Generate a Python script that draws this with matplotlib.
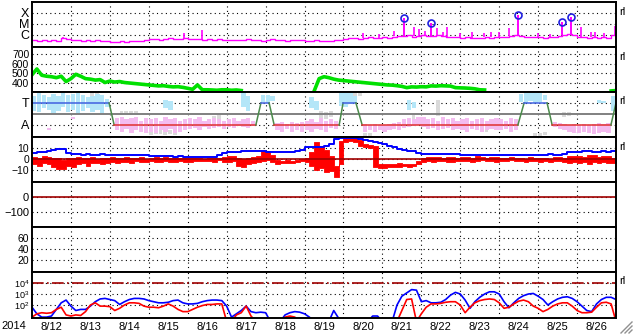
import numpy as np
import matplotlib
matplotlib.use("Agg")
import matplotlib.pyplot as plt
from matplotlib.lines import Line2D
from matplotlib.ticker import NullLocator, FixedLocator

plt.rcParams['font.family'] = ['Liberation Sans', 'DejaVu Sans']
plt.rcParams['font.size'] = 8

nan = np.nan
N8 = [nan] * 8

# ── time axis: days since 2014-08-12 00:00, 3-hour samples ──────────────────
t3 = np.arange(121) / 8.0
day_labels = ["8/12", "8/13", "8/14", "8/15", "8/16", "8/17", "8/18", "8/19",
              "8/20", "8/21", "8/22", "8/23", "8/24", "8/25", "8/26"]

# ── panel 1: GOES X-ray background (units of 1e-7 W/m2) ─────────────────────
xray_bg = [3.2, 2.7, 3.6, 2.9, 3.4, 3.1, 4.8, 3.9,
           3.3, 3.8, 3.0, 3.5, 2.9, 3.6, 3.1, 2.7,
           2.5, 2.3, 2.8, 2.4, 2.6, 3.0, 2.7, 3.5,
           3.9, 4.4, 3.6, 4.1, 5.0, 4.2, 4.6, 5.4,
           4.5, 4.0, 4.4, 3.8, 4.2, 3.6, 3.9, 3.4,
           3.5, 3.8, 3.2, 3.6, 4.0, 3.3, 3.7, 3.1,
           3.4, 3.9, 3.3, 3.6, 3.0, 3.4, 3.8, 3.2,
           3.0, 2.8, 3.3, 2.9, 3.1, 2.7, 3.2, 3.6,
           4.0, 4.8, 5.5, 4.6, 5.2, 6.0, 5.0, 5.6,
           6.2, 5.5, 6.8, 7.5, 8.5, 9.0, 7.0, 8.0,
           9.0, 8.0, 7.5, 9.5, 8.5, 7.0, 6.5, 6.0,
           5.5, 6.0, 5.2, 5.8, 5.0, 6.2, 5.4, 6.0,
           6.5, 7.0, 8.0, 10.0, 8.5, 7.0, 6.5, 6.0,
           6.0, 5.5, 6.5, 6.0, 7.5, 10.0, 12.0, 9.0,
           7.0, 6.0, 5.5, 6.5, 5.8, 6.2, 5.5, 9.0,
           9.0]
spike_t    = [0.8, 3.9, 4.37, 8.5, 8.9, 9.3, 9.81, 9.95, 10.1, 10.4, 10.55, 10.66,
              11.0, 11.3, 11.6, 11.8, 12.0, 12.25, 13.0, 13.3, 14.1, 14.35, 14.45,
              14.7, 14.98]
spike_base = [4.8, 5.0, 4.2, 5.2, 5.6, 7.5, 8.0, 8.0, 9.0, 9.5, 8.5, 7.0,
              5.5, 5.8, 6.2, 6.0, 6.5, 8.0, 6.0, 6.0, 6.0, 6.5, 5.8,
              5.5, 9.0]
spike_peak = [6.5, 15, 28, 15, 12, 23, 53, 35, 23, 43, 19, 53,
              15, 19, 15, 19, 19, 43, 15, 12, 53, 19, 19,
              15, 66]
flare_t    = [9.56, 10.25, 12.48, 13.61, 13.85]
flare_base = [8.5, 7.5, 8.5, 10.0, 12.0]
flare_peak = [350, 120, 660, 150, 430]

# ── panel 2: solar wind speed (km/s) ────────────────────────────────────────
speed = [485, 545, 480, 470, 465, 455, 470, 415,
         445, 490, 470, 445, 440, 430, 435, 405,
         420, 410, 415, 405, 400, 395, 390, 385,
         380, 375, 370, 372, 365, 360, 362, 355,
         345, 335, 380, 330, 330, 328, 325, 330,
         330, 325, 328, 322, nan, nan, nan, nan,
         *N8,
         nan, nan, 320, 445, 465, 455, 440, 430,
         425, 420, 415, 410, 405, 400, 395, 390,
         385, 380, 378, 372, 365, 352, 360, 358,
         362, 360, 370, 368, 372, 370, 368, 352,
         350, 348, 345, 340, 330, 328, nan, nan,
         *N8,
         *N8,
         nan, nan, nan, nan, nan, nan, nan, 318,
         322]

# ── panel 3: IMF sector (T = +1, A = -1) ─────────────────────────────────────
sector_t = [0, 1.98, 2.11, 5.75, 5.88, 6.09, 6.22, 7.89, 7.99, 8.32, 8.48,
            12.48, 12.64, 13.23, 13.36, 14.87, 15.0]
sector_v = [1, 1, -1, -1, 1, 1, -1, -1, 1, 1, -1, -1, 1, 1, -1, -1, 1]

toward_lo = [0.3, 0.2, 0.5, 0.4, 0.1, 0.3, 0.6, 0.2,
             0.4, 0.0, 0.3, 0.5, 0.2, 0.4, 0.1, 0.6,
             *N8,
             nan, nan, nan, 0.5, 0.4, nan, nan, nan,
             *N8,
             nan, nan, nan, 0.6, 0.3, nan, nan, 1.1,
             1.0, 1.2, nan, nan, nan, nan, nan, nan,
             nan, 0.5, 0.4, nan, nan, nan, nan, 0.7,
             0.6, 0.9, 1.0, nan, nan, nan, nan, nan,
             nan, nan, nan, nan, nan, 0.4, 0.5, nan,
             *N8,
             *N8,
             nan, nan, nan, nan, 1.1, 1.0, 1.2, 1.0,
             1.1, 1.3, nan, nan, nan, nan, nan, nan,
             nan, nan, nan, nan, 1.0, 1.0, nan, 0.3,
             0.4]
toward_hi = [1.6, 1.9, 1.7, 1.5, 1.8, 1.6, 1.9, 1.7,
             1.8, 1.9, 1.7, 1.5, 1.6, 1.8, 1.7, 1.4,
             *N8,
             nan, nan, nan, 1.3, 1.2, nan, nan, nan,
             *N8,
             nan, nan, nan, 2.0, 1.6, nan, nan, 1.7,
             1.75, 1.6, nan, nan, nan, nan, nan, nan,
             nan, 1.5, 1.2, nan, nan, nan, nan, 1.9,
             2.0, 1.9, 1.6, nan, nan, nan, nan, nan,
             nan, nan, nan, nan, nan, 1.3, 1.1, nan,
             *N8,
             *N8,
             nan, nan, nan, nan, 1.8, 2.0, 1.9, 2.0,
             1.9, 1.7, nan, nan, nan, nan, nan, nan,
             nan, nan, nan, nan, 1.3, 1.2, nan, 1.6,
             1.5]
away_lo = [nan, nan, nan, -1.5, nan, nan, nan, nan,
           -0.5, nan, nan, nan, nan, nan, nan, nan,
           nan, -1.5, -1.6, -1.4, -1.7, -1.5, -1.6, -1.7,
           -1.6, -1.7, -1.5, -1.6, -1.4, -1.7, -1.6, -1.5,
           -1.4, -1.3, -1.5, -1.2, -1.4, -1.3, -1.2, -1.4,
           -1.2, -1.3, -1.1, -1.2, -1.3, -1.1, nan, nan,
           nan, nan, -1.5, -1.6, -1.4, -1.6, -1.5, -1.6,
           -1.5, -1.6, -1.4, -1.5, -1.6, -1.3, -1.4, nan,
           nan, nan, nan, nan, -1.6, -1.5, -1.6, -1.5,
           -1.6, -1.5, -1.4, -1.5, -1.3, -1.2, -1.1, -1.0,
           -1.2, -1.4, -1.3, -1.5, -1.4, -1.3, -1.5, -1.4,
           -1.5, -1.6, -1.4, -1.5, -1.6, -1.5, -1.4, -1.5,
           -1.5, -1.4, -1.6, -1.5, nan, nan, nan, nan,
           nan, nan, nan, -1.2, -1.4, -1.5, -1.6, -1.7,
           -1.7, -1.6, -1.7, -1.8, -1.7, -1.6, -1.7, nan,
           nan]
away_hi = [nan, nan, nan, -1.3, nan, nan, nan, nan,
           -0.3, nan, nan, nan, nan, nan, nan, nan,
           nan, -0.4, -0.3, -0.5, -0.4, -0.3, -0.6, -0.4,
           -0.5, -0.4, -0.6, -0.3, -0.5, -0.4, -0.6, -0.5,
           -0.4, -0.5, -0.3, -0.6, -0.5, -0.4, -0.5, -0.6,
           -0.5, -0.4, -0.6, -0.5, -0.4, -0.6, nan, nan,
           nan, nan, -0.8, -0.7, -0.9, -0.7, -0.8, -0.7,
           -0.6, -0.5, -0.7, -0.4, -0.6, -0.5, -0.6, nan,
           nan, nan, nan, nan, -0.9, -1.0, -0.9, -1.0,
           -1.0, -0.9, -0.8, -0.7, -0.5, -0.4, -0.5, -0.3,
           -0.3, -0.5, -0.4, -0.6, -0.3, -0.5, -0.4, -0.6,
           -0.5, -0.4, -0.6, -0.5, -0.4, -0.6, -0.5, -0.4,
           -0.5, -0.6, -0.4, -0.5, nan, nan, nan, nan,
           nan, nan, nan, -0.7, -0.8, -0.9, -1.0, -0.9,
           -1.0, -0.9, -1.0, -0.9, -0.8, -0.9, -0.8, nan,
           nan]
mixed_lo = [*N8,
            nan, nan, nan, nan, 1.4, 1.5, nan, nan,
            nan, nan, -0.1, 0.0, -0.1, 0.0, nan, nan,
            -1.9, -1.8, -1.8, -1.9, -1.8, -1.9, nan, nan,
            nan, nan, nan, nan, nan, -0.7, -0.6, nan,
            *N8,
            *N8,
            nan, nan, nan, -0.4, -0.5, -0.3, nan, nan,
            nan, nan, 1.5, 1.6, -2.0, -2.0, nan, nan,
            nan, nan, nan, nan, nan, nan, -0.5, nan,
            nan, nan, nan, -0.2, nan, nan, nan, nan,
            nan, nan, nan, nan, nan, -1.6, nan, nan,
            nan, nan, nan, nan, nan, nan, nan, -2.0,
            -2.0, -1.9, nan, nan, nan, -0.3, -0.2, nan,
            *N8,
            nan]
mixed_hi = [*N8,
            nan, nan, nan, nan, 1.9, 1.9, nan, nan,
            nan, nan, 0.3, 0.3, 0.3, 0.3, nan, nan,
            -1.5, -1.6, -1.5, -1.6, -1.5, -1.6, nan, nan,
            nan, nan, nan, nan, nan, -0.2, -0.1, nan,
            *N8,
            *N8,
            nan, nan, nan, 0.3, 0.2, 0.3, nan, nan,
            nan, nan, 1.9, 1.9, -1.7, -1.7, nan, nan,
            nan, nan, nan, nan, nan, nan, -0.1, nan,
            nan, nan, nan, 1.3, nan, nan, nan, nan,
            nan, nan, nan, nan, nan, -1.2, nan, nan,
            nan, nan, nan, nan, nan, nan, nan, -1.7,
            -1.7, -1.6, nan, nan, nan, 0.2, 0.2, nan,
            *N8,
            nan]

# ── panel 4: IMF Bt and Bz (nT) ─────────────────────────────────────────────
bt = [5.8, 6.0, 6.2, 6.8, 8.5, 9.0, 9.2, 5.0,
      4.5, 4.2, 4.0, 4.3, 4.0, 3.8, 4.1, 3.9,
      4.0, 3.8, 4.0, 3.9, 3.6, 3.5, 3.4, 3.2,
      2.8, 2.5, 2.4, 2.6, 2.3, 2.2, 2.4, 2.2,
      2.0, 2.2, 1.9, 2.1, 1.8, 2.0, 3.5, 5.5,
      6.2, 6.0, 6.4, 7.2, 7.0, 7.3, 7.2, 6.8,
      6.5, 6.6, 6.4, 6.0, 6.3, 6.2, 7.0, 8.5,
      10.5, 10.8, 11.2, 11.0, 11.5, 14.0, 18.0, 19.0,
      19.0, 19.0, 18.8, 18.0, 17.3, 16.5, 15.5, 14.5,
      13.5, 12.0, 10.5, 9.0, 8.0, 7.3, 6.8, 5.5,
      4.5, 4.5, 4.4, 4.6, 4.5, 4.3, 4.5, 4.3,
      4.0, 3.8, 3.6, 3.8, 3.5, 3.9, 3.6, 3.8,
      3.6, 3.8, 3.5, 3.7, 3.3, 3.6, 3.8, 3.9,
      4.0, 3.8, 4.2, 3.6, 4.0, 4.5, 6.0, 6.5,
      6.4, 6.8, 7.2, 6.0, 6.5, 7.5, 6.2, 6.8,
      6.0]
bz_lo = [-5, -6.5, -4, -5, -7, -9, -9.5, -6,
         -7, -5, -4, -6, -4, -3.5, -5, -4,
         -3, -4, -2.5, -3, -3.5, -2, -3, -2.5,
         -2, -3, -2.5, -1.5, -3, -2.5, -2, -3,
         -2.5, -2, -1.5, -2, -1.5, -2.5, -1, -3,
         -3, -2, -6, -7, -5, -4, -3, -2,
         -1, -3, -5, -4, -3.5, -4, -3, -2,
         -3, -6, -10, -8, -12, -11, -16, -5,
         15, 16, 15, 12, 11, 10, -7, -8,
         -8, -7.5, -7, -7, -6.5, -7, -6.5, -5,
         -3, -2, -2.5, -1.5, -2, -3, -2.5, -2,
         -2, -1.5, -3, -2, -1, -2, -1.5, -2.5,
         -2, -1.5, -1, -2, -1.5, -2.5, -1.5, -2,
         -2.5, -2, -3, -2, -1.5, -3, -4, -3,
         -4, -3, -4.5, -3, -4, -2.5, -4, -3.5,
         -2]
bz_hi = [2, 1, 3, 1.5, 0.5, 1, -1, 1,
         1, 2, 0.5, 1, 1.5, 0, 1, 0.5,
         1.5, 0.5, 1, 1.8, 0.5, 1, 1.5, 0,
         1, 1.5, 0.5, 1.8, 0.8, 1.2, 0.5, 1,
         0.5, 1, 0.5, 0, 0.8, 0.5, 1, 2,
         2.5, 3, 1, 0, 1, 2, 3, 7.5,
         7, 4, -1, -1.5, -1, -2, -1, 0,
         1, 6, 15, 12, 8, 3, -6, 16,
         19, 19.5, 19, 17, 14, 13, 12, -5,
         -5, -4.5, -5, -4, -4.5, -5, -4.5, -2,
         1, 2, 1.5, 2, 1, 1.5, 2, 1,
         2, 1.5, 1, 2.5, 2, 1, 1.5, 2,
         1, 0.5, 1.5, 0.5, 1, 0, 1.5, 0.5,
         0.5, 1, 0, 1.5, 2, 1, 2.5, 3,
         3, 2, 3.5, 4, 2, 3, 2.5, 1,
         2]

# ── panel 7: particle flux (log10) ──────────────────────────────────────────
flux_blue = [1.8, 1.2, 0.9, 0.9, 1.0, 1.6, 2.2, 2.45,
             1.9, 1.5, 1.6, 1.6, 1.9, 2.3, 2.55, 2.6,
             2.5, 2.4, 2.05, 2.3, 2.5, 2.6, 2.6, 2.55,
             2.4, 2.3, 2.2, 2.2, 2.25, 2.4, 2.45, 2.2,
             2.1, 2.1, 2.15, 2.3, 2.4, 2.45, 2.45, 2.4,
             1.9, 0.9, 1.2, 1.5, 1.9, 1.4, 1.3, 1.35,
             1.3, 0.5, 0.5, 0.5, 1.1, 1.3, 1.4, 1.35,
             1.2, 0.9, 0.5, 0.5, 0.5, 0.5, 1.5, 0.8,
             0.5, 0.5, 0.5, 0.5, 0.5, 0.5, 1.0, 1.0,
             0.5, 0.5, 0.5, 2.0, 2.8, 3.1, 3.4, 3.35,
             2.3, 2.4, 2.2, 2.2, 2.25, 2.5, 2.9, 3.15,
             3.0, 2.45, 1.7, 2.3, 2.7, 3.0, 3.2, 3.2,
             3.0, 2.3, 1.75, 2.2, 2.6, 2.85, 3.0, 3.05,
             2.8, 2.5, 2.0, 2.3, 2.55, 2.7, 2.75, 2.6,
             2.3, 1.9, 1.5, 1.4, 2.1, 2.5, 2.7, 2.7,
             2.5]
flux_red = [0.9, 1.2, 1.3, 1.25, 1.3, 1.6, 1.8, 1.1,
            1.0, 1.1, 1.05, 1.4, 2.0, 2.2, 1.9, 1.9,
            1.85, 1.5, 1.7, 2.0, 2.2, 2.2, 2.15, 1.9,
            1.8, 1.8, 1.75, 1.9, 2.1, 1.9, 1.6, 1.4,
            1.4, 1.6, 1.8, 1.95, 2.05, 2.05, 2.1, 2.1,
            0.5, 0.5, 1.1, 1.3, 1.9, 1.0, 0.5, 0.5,
            0.5, 0.5, 0.5, 0.5, 0.9, 1.0, 0.9, 0.5,
            0.5, 0.5, 0.5, 0.5, 0.5, 0.5, 0.5, 0.5,
            0.5, 0.5, 0.5, 0.5, 0.5, 0.5, 0.5, 0.5,
            0.5, 0.5, 0.5, 0.5, 1.5, 2.5, 2.55, 0.5,
            1.2, 1.8, 2.1, 2.1, 2.15, 2.25, 2.3, 2.3,
            2.0, 1.3, 1.8, 2.2, 2.4, 2.5, 2.55, 2.5,
            2.2, 1.7, 1.8, 2.1, 2.35, 2.45, 2.3, 1.9,
            1.7, 1.4, 1.6, 1.9, 2.1, 2.2, 2.2, 1.9,
            1.5, 1.3, 1.3, 1.35, 1.8, 2.2, 2.25, 2.1,
            0.5]

# ── layout (pixels of a 633x334 canvas) ─────────────────────────────────────
W, H = 633, 334
X0, X1 = 32, 616
edges = [2, 47, 92, 137, 182, 227, 272, 318]
GRID = dict(color="k", linestyle=(0, (1, 3)), linewidth=0.8)

fig = plt.figure(figsize=(W / 100, H / 100), dpi=100)
axes = []
for i in range(7):
    top, bot = edges[i], edges[i + 1]
    ax = fig.add_axes([X0 / W, 1 - bot / H, (X1 - X0) / W, (bot - top) / H])
    ax.set_xlim(0, 15)
    ax.xaxis.set_major_locator(FixedLocator(range(1, 15)))
    ax.tick_params(axis="both", which="both", length=0, pad=2, labelsize=8)
    ax.tick_params(axis="x", which="major", labelbottom=False)
    for s in ax.spines.values():
        s.set_linewidth(1.4)
    ax.grid(True, **GRID)
    ax.set_axisbelow(True)
    axes.append(ax)
ax1, ax2, ax3, ax4, ax5, ax6, ax7 = axes

# ── panel 1: X-ray ──
ax1.set_yscale("log")
ax1.set_ylim(10 ** -7.1, 1e-3)
ax1.yaxis.set_minor_locator(NullLocator())
ax1.set_yticks([1e-6, 1e-5, 1e-4])
ax1.set_yticklabels(["C", "M", "X"], fontsize=9)
xb = np.array(xray_bg) * 1e-7
ax1.step(t3, xb, where="post", color="#ff00ff", lw=1.0)
ax1.vlines(spike_t, np.array(spike_base) * 1e-7, np.array(spike_peak) * 1e-7,
           color="#ff00ff", lw=1.2)
ax1.vlines(flare_t, np.array(flare_base) * 1e-7, np.array(flare_peak) * 1e-7,
           color="#ff00ff", lw=1.4)
ax1.plot(flare_t, np.array(flare_peak) * 1e-7, "o", ms=5, mfc="none",
         mec="#2020e0", mew=1.2)

# ── panel 2: solar wind speed ──
ax2.set_ylim(307, 772)
ax2.set_yticks([400, 500, 600, 700])
ax2.tick_params(axis="y", labelsize=7.5)
ax2.plot(t3, speed, color="#00e000", lw=2.6)

# ── panel 3: sector ──
ax3.set_ylim(-2.1, 2.0)
ax3.set_yticks([1, -1])
ax3.set_yticklabels(["T", "A"], fontsize=9)
ax3.bar(t3, np.array(mixed_hi) - np.array(mixed_lo), bottom=mixed_lo, width=0.1,
        align="edge", color="#dadada", lw=0)
ax3.bar(t3, np.array(toward_hi) - np.array(toward_lo), bottom=toward_lo, width=0.11,
        align="edge", color="#b4e6f8", lw=0)
ax3.bar(t3, np.array(away_hi) - np.array(away_lo), bottom=away_lo, width=0.11,
        align="edge", color="#f4bcf0", lw=0)
ax3.axhline(0, color="#808080", lw=1.4)
for k in range(len(sector_t) - 1):
    a, b = sector_v[k], sector_v[k + 1]
    col = "#4060e0" if a == b == 1 else ("#e03030" if a == b == -1 else "#4a8a4a")
    ax3.plot(sector_t[k:k + 2], sector_v[k:k + 2], color=col, lw=1.1)

# ── panel 4: IMF ──
ax4.set_ylim(-21, 20)
ax4.set_yticks([10, 0, -10])
ax4.tick_params(axis="y", labelsize=7.5)
ax4.axhline(0, color="#a00000", lw=1.2)
ax4.step(t3, bt, where="post", color="#0000ff", lw=1.4)
# Bz: min/max envelope per 3-hour sample
ax4.fill_between(t3, bz_lo, bz_hi, step="post", color="#ff0000", lw=0.6,
                 edgecolor="#ff0000")

# ── panel 5 ──
ax5.set_ylim(-200, 100)
ax5.set_yticks([0, -100])
ax5.axhline(0, color="#a00000", lw=1.2)

# ── panel 6 ──
ax6.set_ylim(-2, 80)
ax6.set_yticks([60, 40, 20])
ax6.tick_params(axis="y", labelsize=7.5)

# ── panel 7: flux ──
ax7.set_yscale("log")
ax7.set_ylim(10 ** 0.82, 1e5)
ax7.yaxis.set_minor_locator(NullLocator())
ax7.set_yticks([1e4, 1e3, 1e2])
ax7.tick_params(axis="y", labelsize=6.5)
ax7.axhline(1e4, color="#a00000", lw=1.2, linestyle=(0, (7, 2, 1, 2)))
ax7.plot(t3, 10 ** np.array(flux_blue), color="#0000ff", lw=1.2)
ax7.plot(t3, 10 ** np.array(flux_red), color="#ff0000", lw=1.2)
ax7.set_xticks([k + 0.5 for k in range(15)], minor=True)
ax7.set_xticklabels(day_labels, minor=True, fontsize=8)
ax7.tick_params(axis="x", which="minor", length=0, pad=3)

fig.text(14 / W, 1 - 326 / H, "2014", ha="center", va="center", fontsize=8)

for yy in [12, 57, 101, 147, 281]:
    fig.text(619 / W, 1 - yy / H, "rl", ha="left", va="center", fontsize=8)

# resize grip in the corner
for off in [0, 4, 8]:
    fig.add_artist(Line2D([(621 + off) / W, 632 / W],
                          [1 - 333 / H, 1 - (322 + off) / H],
                          transform=fig.transFigure, color="#909090", lw=1))

fig.savefig("out.png", dpi=100)
